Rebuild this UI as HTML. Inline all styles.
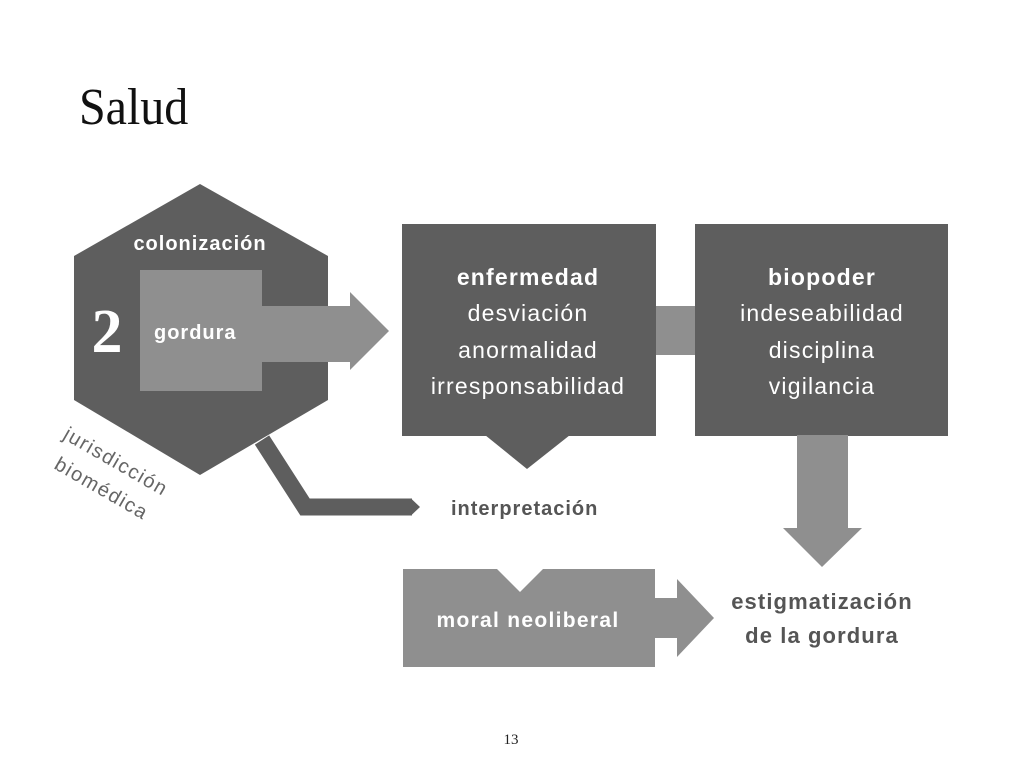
<!DOCTYPE html>
<html><head><style>
body{margin:0;background:#fff;}
svg{display:block}
</style></head><body>
<svg width="1024" height="768" xmlns="http://www.w3.org/2000/svg">
<text x="79" y="124" font-family="Liberation Serif,serif" font-size="48" fill="#111" transform="translate(79,0) scale(1,1.08) translate(-79,-9)">Salud</text>
<polygon points="200,184 328,256 328,400 200,475 74,400 74,256" fill="#5e5e5e"/>
<rect x="140" y="270" width="122" height="121" fill="#8f8f8f"/>
<rect x="261" y="306" width="90" height="56" fill="#8f8f8f"/>
<polygon points="350,292 389,331 350,370" fill="#8f8f8f"/>
<polyline points="262,440 305,507 412,507" fill="none" stroke="#5e5e5e" stroke-width="17"/>
<polygon points="411,498.5 420,507 411,515.5" fill="#5e5e5e"/>
<rect x="655" y="306" width="42" height="49" fill="#8f8f8f"/>
<rect x="402" y="224" width="254" height="212" fill="#5e5e5e"/>
<polygon points="485,435 570,435 527,469" fill="#5e5e5e"/>
<rect x="695" y="224" width="253" height="212" fill="#5e5e5e"/>
<rect x="797" y="435" width="51" height="94" fill="#8f8f8f"/>
<polygon points="783,528 862,528 822,567" fill="#8f8f8f"/>
<polygon points="403,569 497,569 520,592 543,569 655,569 655,667 403,667" fill="#8f8f8f"/>
<rect x="654" y="598" width="25" height="40" fill="#8f8f8f"/>
<polygon points="677,579 714,618 677,657" fill="#8f8f8f"/>
<g font-family="Liberation Sans,sans-serif" font-weight="bold" fill="#fff">
<text x="200" y="250" font-size="20" letter-spacing="1" text-anchor="middle">colonización</text>
<text x="154" y="339" font-size="20" letter-spacing="1">gordura</text>
<text x="528" y="285" font-size="23" letter-spacing="1.2" text-anchor="middle">enfermedad</text>
<text x="822" y="285" font-size="23" letter-spacing="1.2" text-anchor="middle">biopoder</text>
<text x="528" y="627" font-size="21" letter-spacing="1.3" text-anchor="middle">moral neoliberal</text>
</g>
<text x="107" y="352" font-family="Liberation Serif,serif" font-weight="bold" font-size="62" fill="#fff" text-anchor="middle">2</text>
<g font-family="Liberation Sans,sans-serif" fill="#fff" font-size="23" letter-spacing="1.2" text-anchor="middle">
<text x="528" y="321">desviación</text>
<text x="528" y="358">anormalidad</text>
<text x="528" y="394">irresponsabilidad</text>
<text x="822" y="321">indeseabilidad</text>
<text x="822" y="358">disciplina</text>
<text x="822" y="394">vigilancia</text>
</g>
<g font-family="Liberation Sans,sans-serif" font-weight="bold" fill="#555">
<text x="451" y="515" font-size="20" letter-spacing="1">interpretación</text>
<text x="822" y="609" font-size="22" letter-spacing="1.1" text-anchor="middle">estigmatización</text>
<text x="822" y="643" font-size="22" letter-spacing="1.1" text-anchor="middle">de la gordura</text>
</g>
<g font-family="Liberation Sans,sans-serif" font-size="20" letter-spacing="1.5" fill="#666">
<text transform="translate(62,438) rotate(30)">jurisdicción</text>
<text transform="translate(53,468) rotate(30)">biomédica</text>
</g>
<text x="511" y="744" font-family="Liberation Serif,serif" font-size="15" fill="#222" text-anchor="middle">13</text>
</svg>
</body></html>
